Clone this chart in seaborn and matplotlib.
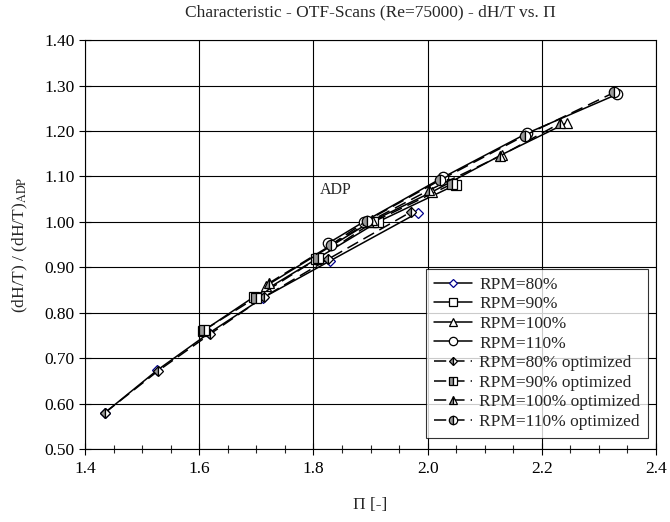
import numpy as np
import pandas as pd
import matplotlib
matplotlib.use("Agg")
import matplotlib.pyplot as plt
import seaborn as sns

# values: Pi (x) and normalised dH/T (y)
pi_80 = [1.435, 1.526, 1.617, 1.712, 1.829, 1.983]
dh_80 = [0.580, 0.673, 0.755, 0.833, 0.914, 1.020]
pi_90 = [1.607, 1.696, 1.805, 1.913, 2.050]
dh_90 = [0.760, 0.835, 0.918, 1.000, 1.082]
pi_100 = [1.717, 1.900, 2.008, 2.130, 2.244]
dh_100 = [0.859, 1.000, 1.066, 1.148, 1.218]
pi_110 = [1.826, 1.888, 2.027, 2.174, 2.332]
dh_110 = [0.953, 1.000, 1.098, 1.195, 1.281]

pi_80o = [1.435, 1.528, 1.619, 1.714, 1.826, 1.971]
dh_80o = [0.580, 0.672, 0.753, 0.835, 0.918, 1.022]
pi_90o = [1.609, 1.699, 1.808, 1.905, 2.042]
dh_90o = [0.762, 0.833, 0.920, 1.000, 1.083]
pi_100o = [1.722, 1.903, 2.003, 2.127, 2.232]
dh_100o = [0.865, 1.004, 1.070, 1.145, 1.217]
pi_110o = [1.830, 1.893, 2.022, 2.170, 2.327]
dh_110o = [0.949, 1.002, 1.092, 1.190, 1.285]

labels = ["RPM=80%", "RPM=90%", "RPM=100%", "RPM=110%",
          "RPM=80% optimized", "RPM=90% optimized",
          "RPM=100% optimized", "RPM=110% optimized"]
xs = [pi_80, pi_90, pi_100, pi_110, pi_80o, pi_90o, pi_100o, pi_110o]
ys = [dh_80, dh_90, dh_100, dh_110, dh_80o, dh_90o, dh_100o, dh_110o]
markers = ["D", "s", "^", "o", "D", "s", "^", "o"]
msizes = [5.5, 7, 7, 7.5, 5.5, 7, 7, 7.5]

sns.set_style("ticks")
plt.rcParams["font.family"] = ["Liberation Serif", "DejaVu Serif"]
plt.rcParams["mathtext.fontset"] = "stix"

fig = plt.figure(figsize=(6.7, 5.22), dpi=100)
ax = fig.add_axes([0.127, 0.14, 0.852, 0.783])

for i, (lab, x, y) in enumerate(zip(labels, xs, ys)):
    df = pd.DataFrame({"pi": x, "dh": y})
    optimized = i >= 4
    edge = "#00008B" if i == 0 else "black"
    sns.lineplot(data=df, x="pi", y="dh", ax=ax, sort=False, estimator=None,
                 color="black", linewidth=1.1,
                 linestyle=(0, (8, 4)) if optimized else "-",
                 marker=markers[i], markersize=msizes[i],
                 fillstyle="left" if optimized else "full",
                 markerfacecolor="#9a9a9a" if optimized else "white",
                 markerfacecoloralt="white",
                 markeredgecolor=edge,
                 markeredgewidth=0.9, label=lab)

ax.set_xlim(1.4, 2.4)
ax.set_ylim(0.5, 1.4)
ax.set_xticks(np.arange(1.4, 2.41, 0.2))
ax.set_xticks(np.arange(1.4, 2.41, 0.05), minor=True)
ax.set_yticks(np.arange(0.5, 1.41, 0.1))
ax.xaxis.set_major_formatter(matplotlib.ticker.FormatStrFormatter("%.1f"))
ax.yaxis.set_major_formatter(matplotlib.ticker.FormatStrFormatter("%.2f"))
ax.tick_params(axis="both", which="major", direction="inout", length=8,
               width=0.8, labelsize=12.5, colors="black")
ax.tick_params(axis="x", which="major", pad=5)
ax.tick_params(axis="x", which="minor", direction="inout", length=6, width=0.8)
ax.grid(True, which="major", color="black", linewidth=0.8)
ax.set_axisbelow(True)
for s in ax.spines.values():
    s.set_color("black")
    s.set_linewidth(0.8)

ax.set_xlabel("Π [-]", fontsize=12.5, labelpad=14)
ax.set_ylabel("(dH/T) / (dH/T)$_{\\mathrm{ADP}}$", fontsize=12.5, labelpad=10)
ax.set_title("Characteristic - OTF-Scans (Re=75000) - dH/T vs. Π", fontsize=12.5, pad=17)
ax.text(1.811, 1.07, "ADP", fontsize=11.5, va="center", ha="left")

leg = ax.legend(loc="lower right", bbox_to_anchor=(0.986, 0.027), fontsize=12.5,
                frameon=True, fancybox=False, edgecolor="black",
                handlelength=2.2, labelspacing=0.2, borderpad=0.45,
                handletextpad=0.4, markerscale=0.8, borderaxespad=0)
leg.get_frame().set_linewidth(0.8)

fig.savefig("out.png", dpi=100, facecolor="white")
